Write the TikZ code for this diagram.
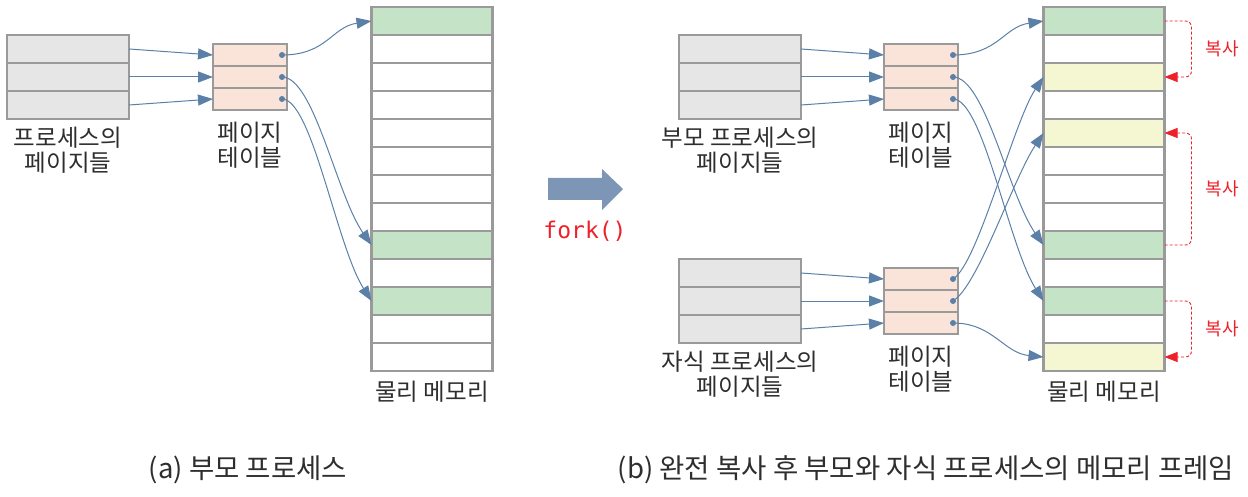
\documentclass[tikz,border=0pt]{standalone}
\usepackage{fontspec}
\setmainfont{Noto Sans CJK KR}
\setmonofont{DejaVu Sans Mono}
\usetikzlibrary{arrows.meta,calc}
\definecolor{boxgray}{HTML}{E6E6E6}
\definecolor{edge}{HTML}{9A9A9A}
\definecolor{peach}{HTML}{FAE4DA}
\definecolor{mgreen}{HTML}{C5E3C6}
\definecolor{myellow}{HTML}{F5F7D3}
\definecolor{steel}{HTML}{5B80A8}
\definecolor{forkblue}{HTML}{7E96B6}
\definecolor{cred}{HTML}{EE2028}
\definecolor{txt}{HTML}{2E2E2E}
\begin{document}
\begin{tikzpicture}[x=1pt,y=-1pt,
  procrow/.style={draw=edge, fill=boxgray, line width=2.5pt, minimum width=122pt, minimum height=28pt, inner sep=0pt, outer sep=0pt},
  ptrow/.style={draw=edge, fill=peach, line width=2.5pt, minimum width=74pt, minimum height=22pt, inner sep=0pt, outer sep=0pt},
  memrow/.style={draw=edge, fill=white, line width=2.5pt, minimum width=121pt, minimum height=28pt, inner sep=0pt, outer sep=0pt},
  ptdot/.style={circle, fill=steel, minimum size=6pt, inner sep=0pt, outer sep=0pt},
  link/.style={draw=steel, line width=1pt, -{Triangle[length=15pt,width=11pt]}},
  copyarrow/.style={draw=cred, line width=0.9pt, dash pattern=on 3pt off 2pt, rounded corners=6pt, -{Triangle[length=13pt,width=10pt]}},
  lbl/.style={text=txt, font=\fontsize{23.5}{25}\selectfont, align=center, inner sep=0pt},
  copylbl/.style={text=cred, font=\fontsize{18}{20}\selectfont, inner sep=0pt},
  caption/.style={text=txt, font=\fontsize{27.5}{30}\selectfont, inner sep=0pt}
]
\useasboundingbox (0,0) rectangle (1248,497);

% ---------- (a) ----------
\node[procrow] (pA1) at (68,49) {};
\node[procrow] (pA2) at (68,77) {};
\node[procrow] (pA3) at (68,105) {};
\node[ptrow] (tA1) at (250,55) {};
\node[ptrow] (tA2) at (250,77) {};
\node[ptrow] (tA3) at (250,99) {};
\foreach \i in {0,...,12}{
  \node[memrow] (mA\i) at (432,{21+28*\i}) {};
}
\node[memrow, fill=mgreen] (mA0x) at (432,21) {};
\node[memrow, fill=mgreen] (mA8x) at (432,245) {};
\node[memrow, fill=mgreen] (mA10x) at (432,301) {};
\node[ptdot] (dA1) at (282,55) {};
\node[ptdot] (dA2) at (282,77) {};
\node[ptdot] (dA3) at (282,99) {};
\draw[link] (pA1.east) -- (tA1.west);
\draw[link] (pA2.east) -- (tA2.west);
\draw[link] (pA3.east) -- (tA3.west);
\draw[link] (dA1.center) .. controls +(45,0) and +(-40,6) .. (mA0.west);
\draw[link] (dA2.center) .. controls +(32,0) and +(-35,-50) .. (mA8.west);
\draw[link] (dA3.center) .. controls +(30,0) and +(-35,-55) .. (mA10.west);
\node[lbl] (lpA) at (68,150) {프로세스의\\페이지들};
\node[lbl] (ltA) at (250,145) {페이지\\테이블};
\node[lbl] (lmA) at (432,392) {물리 메모리};

% ---------- fork ----------
\fill[forkblue] (548,178) -- (602,178) -- (602,169) -- (623,189) -- (602,210) -- (602,200) -- (548,200) -- cycle;
\node[text=cred, font=\ttfamily\fontsize{23}{26}\selectfont, inner sep=0pt] (forktxt) at (585,231) {fork()};

% ---------- (b) ----------
\node[procrow] (pB1) at (740,49) {};
\node[procrow] (pB2) at (740,77) {};
\node[procrow] (pB3) at (740,105) {};
\node[ptrow] (tB1) at (921,55) {};
\node[ptrow] (tB2) at (921,77) {};
\node[ptrow] (tB3) at (921,99) {};
\node[procrow] (pC1) at (740,273) {};
\node[procrow] (pC2) at (740,301) {};
\node[procrow] (pC3) at (740,329) {};
\node[ptrow] (tC1) at (921,279) {};
\node[ptrow] (tC2) at (921,301) {};
\node[ptrow] (tC3) at (921,323) {};
\foreach \i in {0,...,12}{
  \node[memrow] (mB\i) at (1104,{21+28*\i}) {};
}
\node[memrow, fill=mgreen] (mB0x) at (1104,21) {};
\node[memrow, fill=myellow] (mB2x) at (1104,77) {};
\node[memrow, fill=myellow] (mB4x) at (1104,133) {};
\node[memrow, fill=mgreen] (mB8x) at (1104,245) {};
\node[memrow, fill=mgreen] (mB10x) at (1104,301) {};
\node[memrow, fill=myellow] (mB12x) at (1104,357) {};
\node[ptdot] (dB1) at (953,55) {};
\node[ptdot] (dB2) at (953,77) {};
\node[ptdot] (dB3) at (953,99) {};
\node[ptdot] (dC1) at (953,279) {};
\node[ptdot] (dC2) at (953,301) {};
\node[ptdot] (dC3) at (953,323) {};
\draw[link] (pB1.east) -- (tB1.west);
\draw[link] (pB2.east) -- (tB2.west);
\draw[link] (pB3.east) -- (tB3.west);
\draw[link] (pC1.east) -- (tC1.west);
\draw[link] (pC2.east) -- (tC2.west);
\draw[link] (pC3.east) -- (tC3.west);
\draw[link] (dB1.center) .. controls +(45,0) and +(-40,6) .. (mB0.west);
\draw[link] (dB2.center) .. controls +(32,0) and +(-35,-50) .. (mB8.west);
\draw[link] (dB3.center) .. controls +(30,0) and +(-35,-55) .. (mB10.west);
\draw[link] (dC1.center) .. controls +(25,-15) and +(-30,45) .. (mB2.west);
\draw[link] (dC2.center) .. controls +(25,-15) and +(-30,45) .. (mB4.west);
\draw[link] (dC3.center) .. controls +(40,0) and +(-40,-4) .. (mB12.west);
\draw[copyarrow] (mB0.east) -- ++(27,0) |- (mB2.east);
\draw[copyarrow] (mB8.east) -- ++(27,0) |- (mB4.east);
\draw[copyarrow] (mB10.east) -- ++(27,0) |- (mB12.east);
\node[copylbl] (cp1) at (1222,49) {복사};
\node[copylbl] (cp2) at (1222,189) {복사};
\node[copylbl] (cp3) at (1222,329) {복사};
\node[lbl] (lpB) at (740,150) {부모 프로세스의\\페이지들};
\node[lbl] (ltB) at (921,145) {페이지\\테이블};
\node[lbl] (lpC) at (740,374) {자식 프로세스의\\페이지들};
\node[lbl] (ltC) at (921,369) {페이지\\테이블};
\node[lbl] (lmB) at (1104,392) {물리 메모리};

% ---------- captions ----------
\node[caption] (capA) at (248,470) {(a) 부모 프로세스};
\node[caption] (capB) at (926,470) {(b) 완전 복사 후 부모와 자식 프로세스의 메모리 프레임};
\end{tikzpicture}
\end{document}
